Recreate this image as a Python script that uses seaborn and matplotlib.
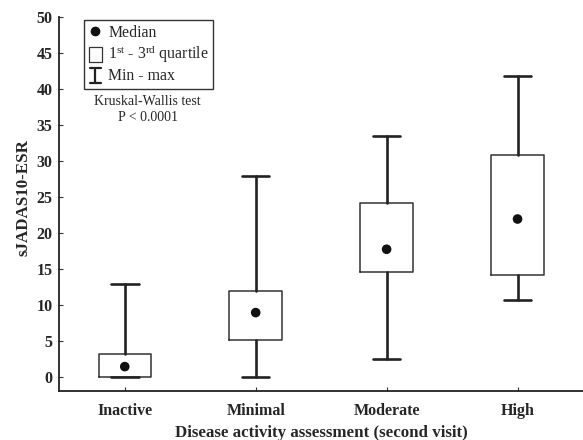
import matplotlib
matplotlib.use("Agg")
import matplotlib.pyplot as plt
from matplotlib.lines import Line2D
from matplotlib.patches import Rectangle
from matplotlib.legend_handler import HandlerBase
import seaborn as sns
import pandas as pd

categories = ["Inactive", "Minimal", "Moderate", "High"]
minimum = [0.0, 0.0, 2.5, 10.6]
q1 = [0.0, 5.05, 14.6, 14.1]
median = [1.4, 8.9, 17.7, 21.9]
q3 = [3.1, 11.9, 24.1, 30.75]
maximum = [12.9, 27.9, 33.4, 41.8]
y_ticks = [0, 5, 10, 15, 20, 25, 30, 35, 40, 45, 50]

sns.set_style("ticks")
plt.rcParams["font.family"] = ["Liberation Serif", "DejaVu Serif"]
plt.rcParams["mathtext.fontset"] = "custom"
plt.rcParams["mathtext.rm"] = "Liberation Serif"
plt.rcParams["mathtext.it"] = "Liberation Serif:italic"
plt.rcParams["mathtext.bf"] = "Liberation Serif:bold"

fig = plt.figure(figsize=(5.83, 4.40), dpi=100)
ax = fig.add_axes([0.1017, 0.112, 0.8983, 0.85])

stats = []
for c, lo, a, m, b, hi in zip(categories, minimum, q1, median, q3, maximum):
    stats.append(dict(label=c, whislo=lo, q1=a, med=m, q3=b, whishi=hi))

ax.bxp(stats, positions=range(len(categories)), widths=0.4, showfliers=False,
       patch_artist=False,
       boxprops=dict(color="#333333", linewidth=1.1),
       whiskerprops=dict(color="#222222", linewidth=1.9),
       capprops=dict(color="#222222", linewidth=1.9),
       medianprops=dict(linewidth=0),
       capwidths=0.21)

df = pd.DataFrame({"pos": range(len(categories)), "median": median})
sns.scatterplot(data=df, x="pos", y="median", ax=ax, color="#111111", s=48,
                edgecolor="none", zorder=5)

ax.set_xlim(-0.5, 3.5)
ax.set_ylim(-1.95, 50)
ax.set_xticks(range(len(categories)))
ax.set_xticklabels(categories)
ax.set_yticks(y_ticks)
for lab in ax.get_xticklabels() + ax.get_yticklabels():
    lab.set_fontweight("bold")
    lab.set_fontsize(11.5)
ax.tick_params(direction="in", length=3, width=0.8, color="#333333")
ax.tick_params(axis="y", pad=5)
ax.tick_params(axis="x", pad=9)
for s in ["top", "right"]:
    ax.spines[s].set_visible(False)
for s in ["left", "bottom"]:
    ax.spines[s].set_color("#222222")
    ax.spines[s].set_linewidth(1.3)

ax.set_xlabel("Disease activity assessment (second visit)", fontweight="bold",
              fontsize=12.2, labelpad=4)
ax.set_ylabel("sJADAS10-ESR", fontweight="bold", fontsize=12.2, labelpad=4)
ax.yaxis.set_label_coords(-0.053, 0.517)


class IBeamHandler(HandlerBase):
    def create_artists(self, legend, orig_handle, xdescent, ydescent, width,
                       height, fontsize, trans):
        cx = width / 2 - xdescent
        top = height + 1 - ydescent
        bot = -2 - ydescent
        hw = width * 0.4
        l1 = Line2D([cx, cx], [bot, top], color="#222222", lw=1.6, transform=trans)
        l2 = Line2D([cx - hw, cx + hw], [top, top], color="#222222", lw=1.6, transform=trans)
        l3 = Line2D([cx - hw, cx + hw], [bot, bot], color="#222222", lw=1.6, transform=trans)
        return [l1, l2, l3]


class SquareHandler(HandlerBase):
    def create_artists(self, legend, orig_handle, xdescent, ydescent, width,
                       height, fontsize, trans):
        side = height + 3
        cx = width / 2 - xdescent
        r = Rectangle((cx - side * 0.45, -ydescent - 2), side * 0.9, side,
                      facecolor="white", edgecolor="#333333", lw=0.9,
                      transform=trans)
        return [r]


h_med = Line2D([], [], marker="o", color="#111111", linestyle="none", markersize=6)
h_box = Rectangle((0, 0), 1, 1)
h_rng = object()
leg = ax.legend([h_med, h_box, h_rng],
                ["Median", r"1$^{\mathrm{st}}$ - 3$^{\mathrm{rd}}$ quartile", "Min - max"],
                handler_map={Rectangle: SquareHandler(), object: IBeamHandler()},
                loc="upper left", bbox_to_anchor=(0.047, 0.991), borderaxespad=0,
                frameon=True, fancybox=False, framealpha=1, edgecolor="#333333",
                handlelength=0.9, handletextpad=0.35, labelspacing=0.18,
                borderpad=0.28, prop={"size": 11.4})
leg.get_frame().set_linewidth(1.0)

ax.text(0.169, 0.752, "Kruskal-Wallis test\nP < 0.0001", transform=ax.transAxes,
        ha="center", va="center", fontsize=10, linespacing=1.35)

fig.savefig("out.png", dpi=100)
